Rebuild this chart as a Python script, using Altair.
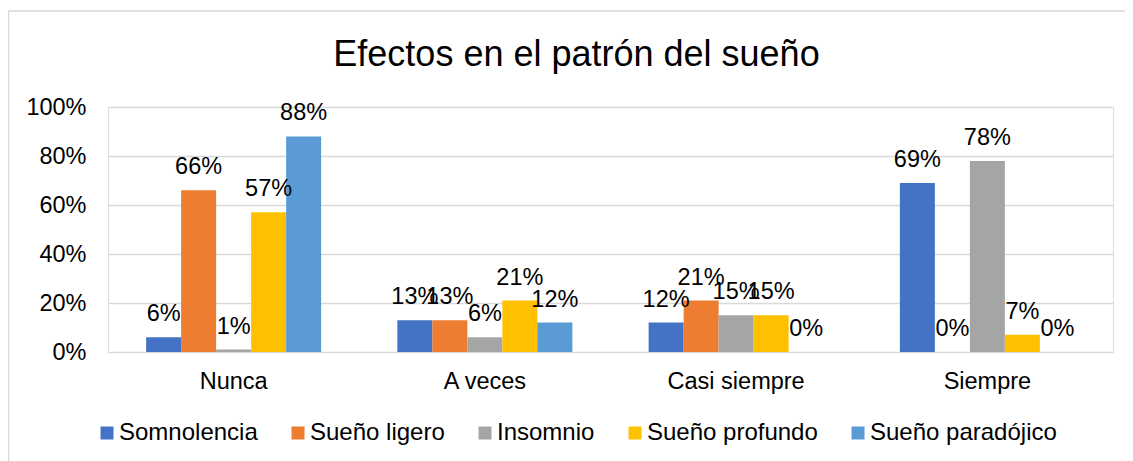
import altair as alt
import pandas as pd

categories = ["Nunca", "A veces", "Casi siempre", "Siempre"]
series = ["Somnolencia", "Sueño ligero", "Insomnio", "Sueño profundo", "Sueño paradójico"]
somnolencia = [0.06, 0.13, 0.12, 0.69]
sueno_ligero = [0.66, 0.13, 0.21, 0.00]
insomnio = [0.01, 0.06, 0.15, 0.78]
sueno_profundo = [0.57, 0.21, 0.15, 0.07]
sueno_paradojico = [0.88, 0.12, 0.00, 0.00]
colors = ["#4472C4", "#ED7D31", "#A5A5A5", "#FFC000", "#5B9BD5"]

values_by_series = [somnolencia, sueno_ligero, insomnio, sueno_profundo, sueno_paradojico]
rows = []
for s, vals in zip(series, values_by_series):
    for c, v in zip(categories, vals):
        rows.append({"Categoría": c, "Serie": s, "Valor": v})
df = pd.DataFrame(rows)

FONT = "Liberation Sans"
FS = 23.5

base = alt.Chart(df).encode(
    x=alt.X("Categoría:N", sort=categories,
            scale=alt.Scale(paddingInner=0.3035, paddingOuter=0.15175),
            axis=alt.Axis(title=None, labelAngle=0, ticks=False, domain=False,
                          labelPadding=17, labelFontSize=FS, labelColor="#000000",
                          labelFont=FONT)),
    xOffset=alt.XOffset("Serie:N", sort=series,
                        scale=alt.Scale(paddingInner=0, paddingOuter=0)),
    y=alt.Y("Valor:Q", scale=alt.Scale(domain=[0, 1]),
            axis=alt.Axis(title=None, format=".0%", values=[0, 0.2, 0.4, 0.6, 0.8, 1.0],
                          ticks=False, domain=False, labelPadding=22,
                          labelFontSize=FS, labelColor="#000000", labelFont=FONT,
                          gridColor="#d9d9d9", gridWidth=1.5)),
)

bars = base.mark_bar().encode(
    color=alt.Color("Serie:N", sort=series,
                    scale=alt.Scale(domain=series, range=colors),
                    legend=alt.Legend(title=None, orient="none", direction="horizontal",
                                      legendX=-13, legendY=314,
                                      symbolType="square", symbolSize=169,
                                      symbolStrokeWidth=0, labelFontSize=24,
                                      labelFont=FONT, labelColor="#000000",
                                      labelOffset=0, columnPadding=28,
                                      labelLimit=400))
)

labels = base.mark_text(baseline="alphabetic", dy=-16, fontSize=FS, font=FONT,
                        color="#000000").encode(
    text=alt.Text("Valor:Q", format=".0%")
)

frame = alt.Chart(alt.Data(values=[{"f": 1}])).mark_rect(
    fill=None, stroke="#d9d9d9", strokeWidth=1.5
).encode(
    x=alt.value(-99.5), x2=alt.value(1030),
    y=alt.value(-96), y2=alt.value(360)
)

chart = alt.layer(frame, bars, labels).properties(
    width=1005,
    height=245,
    autosize=alt.AutoSizeParams(type="none"),
    padding={"left": 100, "top": 99, "right": 12, "bottom": 110},
    title=alt.Title("Efectos en el patrón del sueño", font=FONT, fontSize=36,
                    fontWeight="normal", color="#000000", anchor="middle",
                    dx=-34, offset=-64),
).configure_view(stroke=None).configure(font=FONT)

chart.save("out.html", embed_options={"renderer": "svg", "actions": False})
